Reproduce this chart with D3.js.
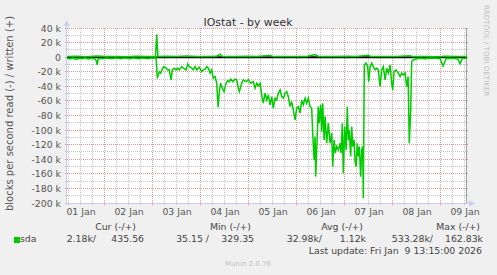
<!doctype html>
<html lang="en">
<head>
<meta charset="utf-8">
<title>IOstat - by week</title>
<script src="https://d3js.org/d3.v7.min.js"></script>
<style>
body { margin:0; background:#f0f0f0; }
svg text { font-family: "DejaVu Sans", sans-serif; white-space: pre; }
.grid line { shape-rendering: crispEdges; }
</style>
</head>
<body>
<script>

// hours since 2026-01-01 00:00 UTC, value in k blocks/s
var readPoints = [
  [5.3,1.5],[6.8,2.5],[8.3,1],[9.8,3],[11.3,1.5],[12.8,2],[14.3,1],[15.8,2.5],[17.3,1.5],[18.8,2],
  [19.8,4],[20.3,10.5],[20.8,3],[21.8,1.5],[23.3,2],[24.8,1],[26.3,1.5],[27.8,2],[29.3,1],[30.8,1.5],
  [32.3,2],[33.8,1],[35.3,1.5],[36.8,2],[38.3,1],[39.8,1.5],[41.3,2],[42.8,1],[44.3,1.5],[45.8,2],
  [47.3,1],[48.8,1.5],[49.8,0.5],
  [50.4,28.8],[51.4,19.8],[52.1,21.9],[53.1,15.1],[53.8,12.9],[54.8,15.1],[55.6,17.4],[56.4,17.4],
  [57.3,31.1],[57.9,17.4],[58.9,15.1],[59.8,17.4],[60.6,15.1],[61.4,17.4],[62.6,12.9],[63.4,15.1],
  [64.8,17.4],[65.6,9.2],[66.4,12.9],[67.6,15.1],[68.4,17.4],[69.3,12.9],[70.1,17.4],[71.4,13.7],
  [72.6,19.8],[73.4,17.4],[74.3,16.5],[75.1,12.9],[75.9,15.1],[76.8,21.9],[77.6,17.4],[78.4,28.8],
  [79.3,26.6],[80.1,35.7],[80.8,68.6],[81.4,47.2],[82.1,35.7],[82.9,42.5],[83.8,47.2],[84.8,35.7],
  [85.6,32.1],[86.4,33.9],[87.1,30.2],[88.1,33.5],[89.3,30.2],[90.1,31.1],[90.9,42.5],[91.4,47.2],
  [92.6,35.7],[93.4,31.1],[94.8,33.5],[95.9,31.1],[97.1,35.7],[98.4,33.5],[99.3,42.5],[100.1,35.7],
  [100.9,39.4],[101.8,35.7],[102.6,51.7],[103.4,63.1],[104.3,49.4],[105.1,58.6],[105.9,51.7],[106.8,65.4],
  [107.6,54.0],[108.4,70.0],[109.3,56.2],[110.1,58.6],[110.9,49.4],[111.8,44.9],[112.6,54.0],[113.4,56.2],
  [114.3,49.4],[115.1,47.2],[115.9,54.0],[116.8,67.8],[117.6,60.9],[118.4,72.3],[119.3,86.0],[120.1,70.0],
  [120.9,67.8],[121.8,76.8],[122.6,58.6],[123.4,65.4],[124.3,56.2],[125.1,63.1],[125.9,56.2],[126.8,67.8],
  [127.6,70.0],[128.1,104.2],[128.8,140.9],[129.3,108.9],[129.6,163.8],[130.1,127.2],[130.9,67.8],[131.4,90.5],
  [132.1,65.4],[132.6,102.1],[133.1,63.1],[133.8,113.4],[134.3,81.5],[135.1,118.0],[135.9,90.5],[136.8,118.0],
  [137.6,104.2],[138.1,150.1],[138.8,113.4],[139.4,131.7],[140.1,122.6],[140.9,127.2],[141.8,118.0],[142.3,131.7],
  [142.9,90.5],[143.4,159.1],[144.1,95.2],[144.8,127.2],[145.4,67.8],[145.9,113.4],[146.4,99.7],[147.1,136.3],
  [147.6,95.2],[148.1,122.6],[148.8,113.4],[149.3,143.2],[149.8,150.1],[150.4,118.0],[150.9,136.3],[151.4,122.6],
  [152.1,163.8],[152.6,127.2],[153.1,122.6],[153.4,193.4],[153.9,10.6],[154.8,8.2],[155.6,12.9],[156.1,33.5],
  [156.8,12.9],[157.6,8.2],[158.4,12.9],[159.3,17.4],[160.1,15.1],[160.9,17.4],[161.8,40.3],[162.6,17.4],
  [163.4,12.9],[164.3,31.1],[165.1,15.1],[165.9,21.9],[166.8,10.6],[167.6,35.7],[168.1,44.9],[168.8,19.8],
  [169.8,17.4],[170.9,21.9],[171.8,26.6],[172.6,21.9],[173.4,24.3],[174.3,21.9],[175.1,40.3],[175.8,26.6],
  [176.4,118.0],[177.1,72.3],[177.6,6.0],[178.4,3.7],[180.1,2.3],[181.8,1.5],[184.3,2],[186.8,1],
  [189.3,1.5],[191.8,2],[193.3,12],[194.8,2],[196.8,1.5],[199.3,2],[200.8,3],[201.8,9],
  [202.8,2],[204.3,1.5],[205.3,1]
];

var writePoints = [
  [5.3,0.8],[10,1.2],[15,0.6],[20,1.5],[25,0.8],[30,1],[35,0.7],[40,1.2],[45,0.9],[49.5,0.8],
  [50.1,31],[50.7,1],[55,1.2],[60,0.8],[65,1.5],[70,1],[75,0.9],[80,1.2],[81.8,4],[83,1],
  [90,0.8],[95,1.1],[100,0.9],[106.8,2.2],[108,1],[115,0.8],[120,1],[125,0.9],[129.3,3.5],[131,1],
  [138,0.9],[145,1.1],[150,0.8],[155.8,2.5],[157,1],[163,0.9],[170,1],[176.8,2],[178,0.8],[185,1],
  [190,0.7],[195,1.2],[200,0.9],[205.3,1]
];

var yTickValues = [40000,20000,0,-20000,-40000,-60000,-80000,-100000,-120000,-140000,-160000,-180000,-200000];
var legendHeads = ["Cur (-/+)", "Min (-/+)", "Avg (-/+)", "Max (-/+)"];
var readStats  = ["2.18k", "35.15 ", "32.98k", "533.28k"];
var writeStats = ["435.56", "329.35", "1.12k", "162.83k"];

var W = 497, H = 275;
var plot = {left:67, right:467, top:28, bottom:203};
var t0 = Date.UTC(2026, 0, 1);
function hr(h) { return new Date(t0 + h * 3600e3); }

var x = d3.scaleUtc()
    .domain([hr(5.25), hr(205.25)])
    .range([plot.left, plot.right]);

var y = d3.scaleLinear()
    .domain([-200000, 40000])
    .range([plot.bottom, plot.top]);

function px(v) { return Math.floor(v) + 0.5; }

var svg = d3.select("body").append("svg")
    .attr("width", W)
    .attr("height", H);

svg.append("rect").attr("width", W).attr("height", H).attr("fill", "#f0f0f0");
svg.append("rect")
    .attr("x", plot.left).attr("y", plot.top)
    .attr("width", plot.right - plot.left).attr("height", plot.bottom - plot.top)
    .attr("fill", "#ffffff");

// grid: minor every 10k / 6h (grey), major every 20k / midnight (red)
var minorY = d3.range(-190000, 40000, 20000);
var minorX = d3.utcHour.every(6).range(x.domain()[0], x.domain()[1]).filter(d => d.getUTCHours() != 0);
var majorX = d3.utcDay.range(x.domain()[0], x.domain()[1]);

var grid = svg.append("g").attr("class", "grid");

grid.append("g").selectAll("line").data(minorY).enter().append("line")
    .attr("x1", plot.left - 2).attr("x2", plot.right + 2)
    .attr("y1", d => px(y(d))).attr("y2", d => px(y(d)))
    .attr("stroke", "#c4c4c4").attr("stroke-dasharray", "1,1");
grid.append("g").selectAll("line").data(minorX).enter().append("line")
    .attr("x1", d => px(x(d))).attr("x2", d => px(x(d)))
    .attr("y1", plot.top).attr("y2", plot.bottom + 2)
    .attr("stroke", "#c4c4c4").attr("stroke-dasharray", "1,1");

grid.append("g").selectAll("line").data(yTickValues).enter().append("line")
    .attr("x1", plot.left - 2).attr("x2", plot.right + 2)
    .attr("y1", d => px(y(d))).attr("y2", d => px(y(d)))
    .attr("stroke", "#e09494").attr("stroke-dasharray", "1,1");
grid.append("g").selectAll("line").data(majorX).enter().append("line")
    .attr("x1", d => px(x(d))).attr("x2", d => px(x(d)))
    .attr("y1", plot.top).attr("y2", plot.bottom + 2)
    .attr("stroke", "#e09494").attr("stroke-dasharray", "1,1");

// right border
grid.append("line")
    .attr("x1", plot.right - 0.5).attr("x2", plot.right - 0.5)
    .attr("y1", plot.top).attr("y2", plot.bottom)
    .attr("stroke", "#a0a0a0");

// axes lines + arrows
grid.append("line")
    .attr("x1", plot.left - 0.5).attr("x2", plot.left - 0.5)
    .attr("y1", plot.bottom + 2).attr("y2", plot.top - 4)
    .attr("stroke", "#c8cdf0");
svg.append("path")
    .attr("d", "M" + (plot.left - 3.5) + "," + (plot.top - 2) + "L" + (plot.left + 2.5) + "," + (plot.top - 2) + "L" + (plot.left - 0.5) + "," + (plot.top - 8) + "Z")
    .attr("fill", "#c8cdf0");
grid.append("line")
    .attr("x1", plot.left - 2).attr("x2", plot.right + 3)
    .attr("y1", plot.bottom + 0.5).attr("y2", plot.bottom + 0.5)
    .attr("stroke", "#c8cdf0");
svg.append("path")
    .attr("d", "M" + (plot.right + 2) + "," + (plot.bottom - 2.5) + "L" + (plot.right + 2) + "," + (plot.bottom + 3.5) + "L" + (plot.right + 8) + "," + (plot.bottom + 0.5) + "Z")
    .attr("fill", "#c8cdf0");

// zero line
svg.append("line")
    .attr("x1", plot.left).attr("x2", plot.right)
    .attr("y1", y(0)).attr("y2", y(0))
    .attr("stroke", "#000").attr("stroke-width", 2);

var readLine = d3.line().x(d => x(hr(d[0]))).y(d => y(-d[1] * 1000));
var writeLine = d3.line().x(d => x(hr(d[0]))).y(d => y(d[1] * 1000));

svg.append("path").datum(readPoints)
    .attr("d", readLine).attr("fill", "none")
    .attr("stroke", "#00cc00").attr("stroke-width", 1.5);
svg.append("path").datum(writePoints)
    .attr("d", writeLine).attr("fill", "none")
    .attr("stroke", "#00cc00").attr("stroke-width", 1.5);

// y axis labels
var yAxis = svg.append("g")
    .attr("transform", "translate(" + plot.left + ",0)")
    .call(d3.axisLeft(y).tickValues(yTickValues).tickSize(0).tickPadding(6)
        .tickFormat(d => d == 0 ? "0" : (d / 1000) + " k"));
yAxis.select(".domain").remove();
yAxis.selectAll("text").attr("font-family", "DejaVu Sans").attr("font-size", "9.33px").attr("fill", "#555");

// x axis labels at noon
var noons = d3.utcDay.range(hr(0), hr(205.25)).map(d => new Date(+d + 12 * 3600e3));
var xAxis = svg.append("g")
    .attr("transform", "translate(0," + plot.bottom + ")")
    .call(d3.axisBottom(x).tickValues(noons).tickSize(0).tickPadding(5.5)
        .tickFormat(d3.utcFormat("%d %b")));
xAxis.select(".domain").remove();
xAxis.selectAll("text").attr("font-family", "DejaVu Sans").attr("font-size", "9.33px").attr("fill", "#555");

// title and side texts
svg.append("text")
    .attr("x", 248).attr("y", 25.5)
    .attr("text-anchor", "middle").attr("font-size", "10.9px").attr("fill", "#333")
    .text("IOstat - by week");

svg.append("text")
    .attr("transform", "translate(13,113.5) rotate(-90)")
    .attr("text-anchor", "middle").attr("font-size", "10px").attr("fill", "#555")
    .text("blocks per second read (-) / written (+)");

svg.append("text")
    .attr("transform", "translate(483.5,5) rotate(90)")
    .attr("text-anchor", "start").attr("font-size", "7.1px").attr("fill", "#c0c0c0")
    .text("RRDTOOL / TOBI OETIKER");

// legend
var headEnd = [136, 251, 363, 480];
var readEnd = [96, 209, 322, 433];
var writeEnd = [144, 254, 366, 483];

svg.append("g").selectAll("text").data(legendHeads).enter().append("text")
    .attr("x", (d, i) => headEnd[i]).attr("y", 230)
    .attr("text-anchor", "end").attr("font-size", "9.33px").attr("fill", "#444")
    .text(d => d);

svg.append("rect")
    .attr("x", 14).attr("y", 237).attr("width", 6).attr("height", 6)
    .attr("fill", "#00cc00");
svg.append("text")
    .attr("x", 20).attr("y", 242)
    .attr("font-size", "9.33px").attr("fill", "#444")
    .text("sda");

svg.append("g").selectAll("text").data(readStats).enter().append("text")
    .attr("x", (d, i) => readEnd[i]).attr("y", 242)
    .attr("text-anchor", "end").attr("font-size", "9.33px").attr("fill", "#444")
    .text(d => d + "/");
svg.append("g").selectAll("text").data(writeStats).enter().append("text")
    .attr("x", (d, i) => writeEnd[i]).attr("y", 242)
    .attr("text-anchor", "end").attr("font-size", "9.33px").attr("fill", "#444")
    .text(d => d);

svg.append("text")
    .attr("x", 482).attr("y", 254)
    .attr("text-anchor", "end").attr("font-size", "9.33px").attr("fill", "#444")
    .text("Last update: Fri Jan  9 13:15:00 2026");

svg.append("text")
    .attr("x", 248).attr("y", 266)
    .attr("text-anchor", "middle").attr("font-size", "7px").attr("fill", "#c0c0c0")
    .text("Munin 2.0.76");

</script>
</body>
</html>
